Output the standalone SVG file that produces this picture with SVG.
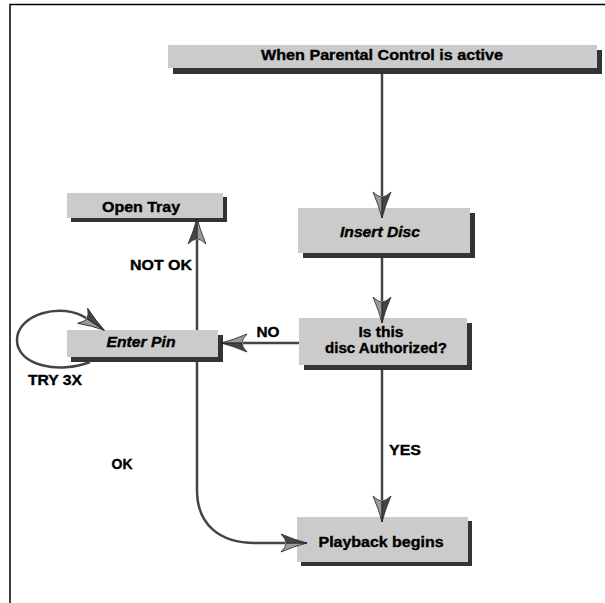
<svg xmlns="http://www.w3.org/2000/svg" width="605" height="603" viewBox="0 0 605 603">
<style>
.box{fill:#cbcbcb}
.sh{fill:#333}
.t{font-family:"Liberation Sans",Arial,sans-serif;font-weight:bold;font-size:14px;fill:#000;stroke:#000;stroke-width:0.35;text-anchor:middle}
.i{font-style:italic}
.c{fill:none;stroke:#444;stroke-width:2.5}
</style>
<defs>
<marker id="ah" markerUnits="userSpaceOnUse" viewBox="-28 -11 30 22" markerWidth="30" markerHeight="22" refX="-22" refY="0" orient="auto" overflow="visible">
<path d="M0,0 Q-12,3 -26,9 Q-21,4 -21,0 Z" fill="#9a9a9a" stroke="#222" stroke-width="0.8"/>
<path d="M0,0 Q-12,-3 -26,-9 Q-21,-4 -21,0 Z" fill="#444" stroke="#222" stroke-width="0.8"/>
</marker>
</defs>
<rect width="605" height="603" fill="#fff"/>
<path d="M10,603 V4.5 H605" fill="none" stroke="#000" stroke-width="1.5"/>

<g id="header">
<rect class="sh" x="173" y="50" width="429" height="24"/>
<rect class="box" x="168" y="45" width="429" height="23"/>
<text class="t" x="382" y="60" textLength="242" lengthAdjust="spacingAndGlyphs">When Parental Control is active</text>
</g>
<g id="insert-disc">
<rect class="sh" x="303" y="213" width="172" height="45"/>
<rect class="box" x="298" y="208" width="172" height="45"/>
<text class="t i" x="380" y="237" textLength="80" lengthAdjust="spacingAndGlyphs">Insert Disc</text>
</g>
<g id="is-authorized">
<rect class="sh" x="304" y="323" width="168" height="47"/>
<rect class="box" x="299" y="318" width="168" height="47"/>
<text class="t" x="381" y="337" textLength="45" lengthAdjust="spacingAndGlyphs">Is this</text>
<text class="t" x="386" y="353" textLength="122" lengthAdjust="spacingAndGlyphs">disc Authorized?</text>
</g>
<g id="open-tray">
<rect class="sh" x="71" y="197" width="156" height="25"/>
<rect class="box" x="67" y="193" width="156" height="25"/>
<text class="t" x="141" y="212" textLength="78" lengthAdjust="spacingAndGlyphs">Open Tray</text>
</g>
<g id="enter-pin">
<rect class="sh" x="71" y="335" width="152" height="27"/>
<rect class="box" x="67" y="330" width="151" height="27"/>
<text class="t i" x="141" y="347" textLength="69" lengthAdjust="spacingAndGlyphs">Enter Pin</text>
</g>
<g id="playback">
<rect class="sh" x="301" y="521" width="171" height="45"/>
<rect class="box" x="297" y="517" width="171" height="45"/>
<text class="t" x="381" y="547" textLength="125" lengthAdjust="spacingAndGlyphs">Playback begins</text>
</g>

<g id="connectors">
<path class="c" d="M382,74 V196" marker-end="url(#ah)"/>
<path class="c" d="M382,258 V301" marker-end="url(#ah)"/>
<path class="c" d="M382,370 V500" marker-end="url(#ah)"/>
<path class="c" d="M299,343 H243" marker-end="url(#ah)"/>
<path class="c" d="M197,330 V240" marker-end="url(#ah)"/>
<path class="c" d="M197,362 V490 C197,525 220,543 255,543 H285" marker-end="url(#ah)"/>
<path class="c" d="M90,362 C60,374 17,366 17,340 C17,314 62,302 86,318" marker-end="url(#ah)"/>
<text class="t" x="268" y="337" textLength="23" lengthAdjust="spacingAndGlyphs">NO</text>
<text class="t" x="405" y="455" textLength="32" lengthAdjust="spacingAndGlyphs">YES</text>
<text class="t" x="161" y="270" textLength="62" lengthAdjust="spacingAndGlyphs">NOT OK</text>
<text class="t" x="122" y="469" textLength="21" lengthAdjust="spacingAndGlyphs">OK</text>
<text class="t" x="55" y="385" textLength="54" lengthAdjust="spacingAndGlyphs">TRY 3X</text>
</g>
</svg>
